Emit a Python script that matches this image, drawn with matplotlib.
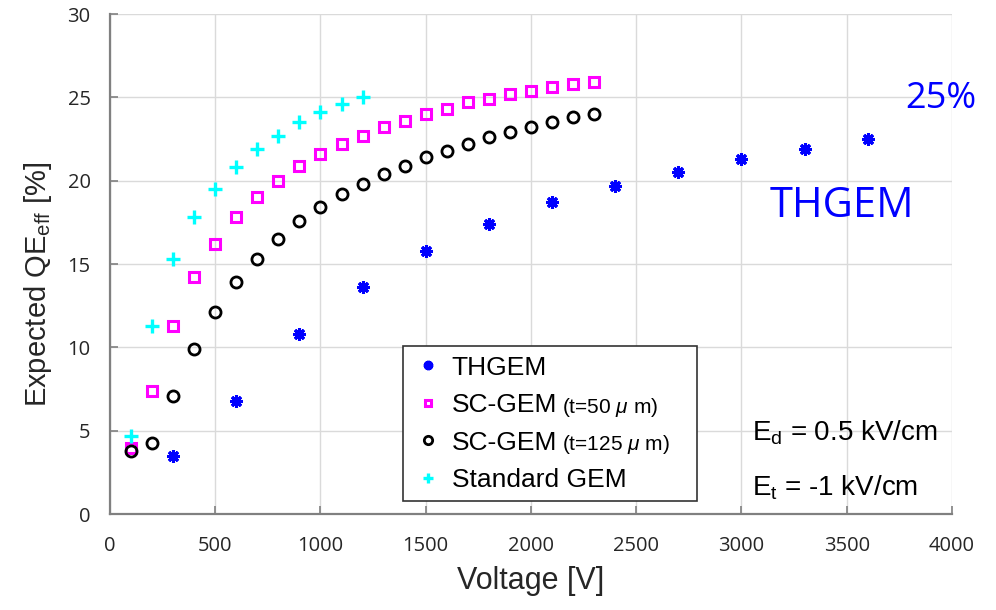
import matplotlib
matplotlib.use("Agg")
import matplotlib.pyplot as plt

# Data
voltage_thgem = [300, 600, 900, 1200, 1500, 1800, 2100, 2400, 2700, 3000, 3300, 3600]
qe_thgem = [3.5, 6.8, 10.8, 13.6, 15.8, 17.4, 18.7, 19.7, 20.5, 21.3, 21.9, 22.5]

voltage_sc = [100, 200, 300, 400, 500, 600, 700, 800, 900, 1000, 1100, 1200,
              1300, 1400, 1500, 1600, 1700, 1800, 1900, 2000, 2100, 2200, 2300]
qe_sc50 = [4.0, 7.4, 11.3, 14.2, 16.2, 17.8, 19.0, 20.0, 20.9, 21.6, 22.2, 22.7,
           23.2, 23.6, 24.0, 24.3, 24.7, 24.9, 25.2, 25.4, 25.6, 25.8, 25.9]
qe_sc125 = [3.8, 4.3, 7.1, 9.9, 12.1, 13.9, 15.3, 16.5, 17.6, 18.4, 19.2, 19.8,
            20.4, 20.9, 21.4, 21.8, 22.2, 22.6, 22.9, 23.2, 23.5, 23.8, 24.0]

voltage_std = [100, 200, 300, 400, 500, 600, 700, 800, 900, 1000, 1100, 1200]
qe_std = [4.7, 11.3, 15.3, 17.8, 19.5, 20.8, 21.9, 22.7, 23.5, 24.1, 24.6, 25.0]

x_ticks = [0, 500, 1000, 1500, 2000, 2500, 3000, 3500, 4000]
y_ticks = [0, 5, 10, 15, 20, 25, 30]

base = "Liberation Sans"
plt.rcParams['font.family'] = [base, 'DejaVu Sans']
plt.rcParams['mathtext.fontset'] = 'custom'
plt.rcParams['mathtext.rm'] = base
plt.rcParams['mathtext.it'] = base + ':italic'

fig = plt.figure(figsize=(9.96, 6.10), dpi=100)
ax = fig.add_axes([0.1104, 0.157, 0.8454, 0.820])

ax.plot(voltage_thgem, qe_thgem, linestyle='none', marker=(8, 2, 0), markersize=9,
        markeredgewidth=2.2, color='#0000FF', label='THGEM', zorder=3)
ax.plot(voltage_sc, qe_sc50, linestyle='none', marker='s', markersize=6.5,
        markeredgewidth=2.2, markerfacecolor='none', markeredgecolor='#FF00FF',
        label='SC-GEM', zorder=3)
ax.plot(voltage_sc, qe_sc125, linestyle='none', marker='o', markersize=8,
        markeredgewidth=2.0, markerfacecolor='none', markeredgecolor='black',
        label='SC-GEM', zorder=3)
ax.plot(voltage_std, qe_std, linestyle='none', marker='+', markersize=10,
        markeredgewidth=2.4, color='#00FFFF', label='Standard GEM', zorder=3)

ax.set_xlim(0, 4000)
ax.set_ylim(0, 30)
ax.set_xticks(x_ticks)
ax.set_yticks(y_ticks)
ax.grid(True, color='#DADADA', linewidth=1.0)
ax.set_axisbelow(True)
for s in ['top', 'right']:
    ax.spines[s].set_visible(False)
for s in ['left', 'bottom']:
    ax.spines[s].set_color('#808080')
    ax.spines[s].set_linewidth(1.6)
ax.tick_params(direction='in', length=6, width=1.2, color='#808080')
ax.tick_params(axis='y', labelsize=14.5, pad=14)
ax.tick_params(axis='x', labelsize=14.5, pad=16)
for lab in ax.get_yticklabels() + ax.get_xticklabels():
    lab.set_family('Open Sans')
    lab.set_color('#262626')

ax.set_xlabel('Voltage [V]', fontsize=22, color='#262626', labelpad=7)
ax.set_ylabel(r'Expected QE$_{\mathregular{eff}}$ [%]', fontsize=21, color='#262626')
ax.yaxis.set_label_coords(-0.066, 0.46)

leg = ax.legend(loc='lower left', bbox_to_anchor=(0.348, 0.026, 0.3497, 0.308), mode='expand',
                borderaxespad=0, fontsize=19, frameon=True, fancybox=False,
                edgecolor='#333333', framealpha=1, handlelength=1.2, handletextpad=0.3,
                labelspacing=0.51, borderpad=0.35, markerscale=0.75)
leg.get_frame().set_linewidth(1.2)

fig.canvas.draw()
renderer = fig.canvas.get_renderer()
texts = leg.get_texts()
inv = fig.transFigure.inverted()
for txt, extra in [(texts[1], r'(t=50 $\mu$ m)'), (texts[2], r'(t=125 $\mu$ m)')]:
    bb = txt.get_window_extent(renderer)
    x0, y0 = inv.transform((bb.x1 + 5, (bb.y0 + bb.y1) / 2 - 2))
    fig.text(x0, y0, extra, fontsize=15, va='center', ha='left', color='black', zorder=10)

ax.text(3777, 24.9, '25%', fontsize=26, color='#0000FF', family='Open Sans',
        clip_on=False, va='center', ha='left')
ax.text(3135, 18.5, 'THGEM', fontsize=30, color='#0000FF', family='Open Sans',
        clip_on=False, va='center', ha='left')

ax.text(3050, 4.9, r'E$_{\mathregular{d}}$ = 0.5 kV/cm', fontsize=20, color='black', va='center')
ax.text(3050, 1.6, r'E$_{\mathregular{t}}$ = -1 kV/cm', fontsize=20, color='black', va='center')

fig.savefig('out.png', dpi=100)
